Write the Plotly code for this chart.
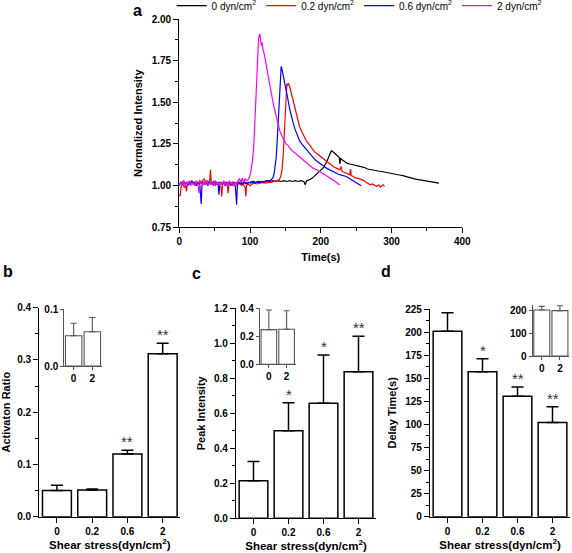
import plotly.graph_objects as go

W, H = 572, 553
FONT = "Liberation Sans, Arial, sans-serif"

# ---------------- Panel a: time courses (t [s], normalized intensity) ----------------
series_names = ["0 dyn/cm<sup>2</sup>", "0.2 dyn/cm<sup>2</sup>", "0.6 dyn/cm<sup>2</sup>", "2 dyn/cm<sup>2</sup>"]
series_colors = ["#000000", "#ff0000", "#0000ff", "#ff00ff"]

trace_0 = [(0,1.01),(4,1.02),(8,1.01),(12,1.015),(16,1.01),(20,1.02),(24,1.015),(28,1.01),(32,1.02),(36,1.01),
           (40,1.015),(44,1.02),(48,1.01),(52,1.015),(56,1.02),(60,1.01),(64,1.02),(68,1.015),(72,1.01),(76,1.02),
           (80,1.015),(84,1.02),(88,1.01),(92,1.02),(96,1.015),(100,1.02),(104,1.025),(108,1.02),(112,1.025),(116,1.02),
           (120,1.025),(124,1.03),(128,1.025),(132,1.03),(136,1.025),(140,1.03),(144,1.025),(148,1.03),(152,1.025),(156,1.03),
           (160,1.025),(164,1.03),(168,1.025),(172,1.03),(176,1.025),(178,1.005),(180,1.03),(184,1.035),(188,1.045),(192,1.06),
           (196,1.075),(200,1.09),(204,1.11),(208,1.14),(211,1.17),(213,1.20),(215,1.21),(218,1.20),(221,1.19),(224,1.18),
           (226,1.17),(227,1.13),(228,1.165),(230,1.155),(233,1.145),(237,1.135),(241,1.13),(246,1.125),(251,1.12),(256,1.115),
           (261,1.11),(266,1.10),(271,1.095),(276,1.09),(281,1.088),(286,1.085),(291,1.08),(296,1.077),(301,1.072),(306,1.068),
           (311,1.064),(316,1.06),(321,1.053),(326,1.046),(331,1.042),(336,1.038),(341,1.034),(346,1.03),(351,1.026),(356,1.023),
           (361,1.02),(364,1.018),(367,1.015)]

trace_02 = [(0,0.95),(1,0.935),(2,0.97),(3,1.0),(5,1.01),(7,0.99),(9,1.0),(10,0.965),(11,1.0),(13,1.02),
            (15,1.01),(17,1.03),(19,1.01),(21,1.02),(23,1.0),(25,1.02),(27,1.01),(29,1.03),(31,1.02),(33,1.03),
            (35,1.04),(37,1.02),(39,1.03),(41,1.02),(43,1.03),(44,1.095),(45,1.02),(47,1.01),(49,1.03),(51,1.0),
            (53,1.02),(55,1.01),(57,1.0),(59,0.99),(60,0.935),(61,1.0),(63,1.02),(65,1.0),(67,1.01),(68,1.0),
            (69,0.955),(70,1.0),(72,1.02),(74,1.01),(76,1.0),(78,1.02),(80,1.01),(82,1.0),(84,1.02),(86,1.01),
            (88,1.0),(90,1.01),(92,1.0),(93,0.99),(94,0.935),(95,1.0),(97,1.01),(100,1.0),(103,1.01),(106,1.015),
            (110,1.01),(114,1.015),(118,1.02),(122,1.015),(126,1.02),(130,1.02),(134,1.025),(138,1.03),(141,1.035),(143,1.05),
            (145,1.09),(147,1.19),(148,1.29),(149,1.39),(150,1.50),(151,1.57),(152,1.61),(153,1.605),(154,1.615),(156,1.595),
            (158,1.56),(161,1.495),(163,1.46),(166,1.41),(168,1.385),(170,1.355),(173,1.325),(175,1.305),(178,1.28),(180,1.265),
            (183,1.25),(186,1.23),(189,1.215),(192,1.20),(195,1.19),(198,1.175),(201,1.165),(204,1.16),(207,1.145),(210,1.14),
            (213,1.125),(216,1.12),(219,1.11),(222,1.105),(225,1.10),(227,1.095),(229,1.115),(230,1.085),(233,1.08),(236,1.075),
            (239,1.07),(241,1.065),(242,1.10),(243,1.06),(246,1.055),(249,1.045),(252,1.045),(255,1.04),(258,1.035),(261,1.03),
            (264,1.02),(267,1.01),(270,1.005),(273,1.01),(276,1.0),(279,0.995),(282,1.005),(284,0.99),(286,1.0),(288,1.005),
            (290,0.995)]

trace_06 = [(0,1.0),(2,1.02),(4,1.01),(6,1.03),(8,1.01),(10,1.02),(12,1.0),(14,1.02),(16,1.01),(18,1.03),
            (20,1.01),(22,1.02),(24,1.0),(26,1.02),(28,1.01),(29,1.0),(30,0.95),(31,0.89),(32,1.0),(34,1.02),
            (36,1.01),(38,1.02),(40,1.0),(42,1.02),(44,1.01),(46,1.02),(48,1.0),(50,1.02),(52,1.01),(54,1.02),
            (55,1.0),(56,0.945),(57,1.0),(59,1.02),(61,1.01),(63,1.02),(65,1.0),(67,1.02),(69,1.01),(71,1.02),
            (73,1.0),(75,1.02),(77,1.01),(79,1.0),(80,0.95),(81,0.885),(82,1.0),(84,1.02),(86,1.01),(88,1.02),
            (90,1.01),(92,1.02),(95,1.01),(98,1.02),(101,1.015),(104,1.02),(107,1.015),(110,1.02),(113,1.02),(116,1.025),
            (119,1.02),(122,1.025),(125,1.03),(128,1.03),(130,1.035),(132,1.045),(134,1.07),(136,1.12),(137,1.17),(138,1.24),
            (139,1.32),(140,1.40),(141,1.54),(142,1.63),(143,1.69),(144,1.715),(145,1.70),(146,1.68),(147,1.665),(149,1.62),
            (151,1.57),(153,1.53),(156,1.46),(158,1.42),(161,1.375),(163,1.345),(166,1.31),(168,1.29),(170,1.27),(173,1.25),
            (176,1.235),(180,1.215),(183,1.20),(186,1.18),(189,1.165),(192,1.155),(195,1.145),(199,1.135),(202,1.125),(205,1.115),
            (208,1.105),(212,1.095),(216,1.088),(220,1.08),(224,1.07),(228,1.065),(232,1.06),(236,1.055),(240,1.045),(244,1.035),
            (248,1.025),(252,1.015),(255,1.005),(257,1.0)]

trace_2 = [(0,1.0),(2,1.02),(4,1.01),(6,1.03),(8,1.0),(10,1.02),(12,1.01),(14,1.03),(16,1.0),(18,1.02),
           (20,1.01),(22,1.0),(24,1.03),(26,1.01),(27,0.99),(28,0.955),(29,1.01),(31,1.02),(33,1.0),(35,1.02),
           (37,1.01),(39,1.03),(41,1.0),(43,1.02),(45,1.01),(47,1.02),(49,1.0),(51,1.03),(53,1.01),(55,1.02),
           (57,1.0),(59,1.02),(61,1.01),(63,1.03),(65,1.0),(67,1.02),(69,1.01),(71,1.03),(73,1.01),(75,1.02),
           (77,1.0),(79,1.02),(81,1.01),(83,1.03),(85,1.04),(87,1.02),(89,1.045),(91,1.02),(93,1.04),(95,1.03),
           (97,1.035),(99,1.05),(101,1.08),(103,1.14),(105,1.22),(107,1.40),(109,1.64),(110,1.75),(111,1.83),(112,1.88),
           (113,1.90),(114,1.91),(115,1.87),(116,1.84),(117,1.86),(118,1.82),(120,1.79),(122,1.74),(124,1.69),(126,1.64),
           (128,1.59),(130,1.55),(132,1.51),(134,1.47),(136,1.43),(138,1.39),(140,1.36),(142,1.33),(145,1.30),(148,1.27),
           (151,1.25),(154,1.24),(157,1.22),(161,1.205),(165,1.19),(170,1.175),(175,1.155),(180,1.135),(185,1.12),(189,1.105),
           (194,1.095),(199,1.08),(204,1.07),(208,1.06),(212,1.05),(216,1.035),(219,1.03),(222,1.02),(225,1.01),(227,1.005)]

time_series = [trace_0, trace_02, trace_06, trace_2]

# ---------------- Panels b, c, d: bar charts ----------------
shear_categories = ["0", "0.2", "0.6", "2"]
inset_categories = ["0", "2"]

activation_ratio = [0.050, 0.051, 0.120, 0.312]
activation_err = [0.010, 0.002, 0.007, 0.020]
activation_sig = ["", "", "**", "**"]
activation_inset = [0.053, 0.060]
activation_inset_err = [0.022, 0.025]

peak_intensity = [0.215, 0.500, 0.657, 0.838]
peak_err = [0.109, 0.160, 0.276, 0.202]
peak_sig = ["", "*", "*", "**"]
peak_inset = [0.248, 0.250]
peak_inset_err = [0.140, 0.133]

delay_time = [201, 157, 130.5, 102]
delay_err = [20, 14, 10, 17]
delay_sig = ["", "*", "**", "**"]
delay_inset = [203, 200]
delay_inset_err = [16, 22]


def dx(x0, x1):
    return [x0 / W, x1 / W]


def dy(top, bottom):
    return [1 - bottom / H, 1 - top / H]


tickfont = dict(family=FONT, size=10, color="black", weight="bold")
titlefont = dict(family=FONT, size=11, color="black", weight="bold")


def ax(**kw):
    base = dict(showline=True, linecolor="black", linewidth=1.3, ticks="outside", ticklen=5,
                tickwidth=1.3, tickcolor="black", showgrid=False, zeroline=False, tickfont=tickfont,
                mirror=False, fixedrange=True, automargin=False)
    base.update(kw)
    return base


def inset_ax(**kw):
    base = dict(showline=True, linecolor="#555555", linewidth=1.1, ticks="outside", ticklen=3,
                tickwidth=1.1, tickcolor="#555555", showgrid=False, zeroline=False, tickfont=tickfont,
                mirror=False, fixedrange=True, automargin=False)
    base.update(kw)
    return base


fig = go.Figure()

for pts, name, color in zip(time_series, series_names, series_colors):
    fig.add_trace(go.Scatter(x=[p[0] for p in pts], y=[p[1] for p in pts], mode="lines", name=name,
                             line=dict(color=color, width=1.2), xaxis="x", yaxis="y"))


def add_bars(vals, errs, xa, ya, width, lw, lcolor, ecolor, ewidth, ethick, cats):
    fig.add_trace(go.Bar(x=cats, y=vals, width=width, showlegend=False, xaxis=xa, yaxis=ya,
                         marker=dict(color="white", line=dict(color=lcolor, width=lw)),
                         error_y=dict(type="data", symmetric=False, array=errs, arrayminus=[0] * len(errs),
                                      color=ecolor, thickness=ethick, width=ewidth)))


add_bars(activation_ratio, activation_err, "x2", "y2", 0.82, 1.5, "black", "black", 6, 1.5, shear_categories)
add_bars(activation_inset, activation_inset_err, "x3", "y3", 0.88, 1.1, "#555555", "#555555", 3, 1.1, inset_categories)
add_bars(peak_intensity, peak_err, "x4", "y4", 0.82, 1.5, "black", "black", 6, 1.5, shear_categories)
add_bars(peak_inset, peak_inset_err, "x5", "y5", 0.88, 1.1, "#555555", "#555555", 3, 1.1, inset_categories)
add_bars(delay_time, delay_err, "x6", "y6", 0.82, 1.5, "black", "black", 6, 1.5, shear_categories)
add_bars(delay_inset, delay_inset_err, "x7", "y7", 0.88, 1.1, "#555555", "#555555", 3, 1.1, inset_categories)

annotations = []
for vals, errs, sigs, xr, yr in [(activation_ratio, activation_err, activation_sig, "x2", "y2"),
                                 (peak_intensity, peak_err, peak_sig, "x4", "y4"),
                                 (delay_time, delay_err, delay_sig, "x6", "y6")]:
    for i, (v, e, s) in enumerate(zip(vals, errs, sigs)):
        if s:
            annotations.append(dict(x=i, y=v + e, xref=xr, yref=yr, text=s, showarrow=False,
                                    yanchor="bottom", yshift=-2,
                                    font=dict(family=FONT, size=15, color="#333333")))

for letter, px, py, anchor in [("a", 137, 0, "top"), ("b", 8, 271, "middle"),
                               ("c", 196, 273, "middle"), ("d", 386, 272, "middle")]:
    annotations.append(dict(x=px / W, y=1 - py / H, xref="paper", yref="paper", text=letter, showarrow=False,
                            xanchor="center", yanchor=anchor,
                            font=dict(family=FONT, size=16, color="black", weight="bold")))

shear_title = dict(text="Shear stress(dyn/cm<sup>2</sup>)", font=dict(family=FONT, size=11.5, color="black", weight="bold"), standoff=3)

fig.update_layout(
    width=W, height=H, margin=dict(l=0, r=0, t=0, b=0, autoexpand=False),
    paper_bgcolor="white", plot_bgcolor="white",
    font=dict(family=FONT, color="black"),
    barmode="overlay",
    showlegend=True,
    legend=dict(orientation="h", x=0.3, y=1.016, xanchor="left", yanchor="top",
                font=dict(family=FONT, size=10, color="black"), itemwidth=30,
                bgcolor="rgba(0,0,0,0)", tracegroupgap=0),
    xaxis=ax(domain=dx(179.3, 462.3), range=[0, 400], dtick=100, anchor="y",
             minor=dict(dtick=50, ticks="outside", ticklen=3, tickcolor="black", tickwidth=1.1),
             title=dict(text="Time(s)", font=titlefont, standoff=6)),
    yaxis=ax(domain=dy(19, 227.3), range=[0.75, 2.0], dtick=0.25, tickformat=".2f", anchor="x",
             minor=dict(dtick=0.125, ticks="outside", ticklen=3, tickcolor="black", tickwidth=1.1),
             title=dict(text="Normalized Intensity", font=titlefont, standoff=6)),
    xaxis2=ax(domain=dx(39.3, 180.3), type="category", range=[-0.5, 3.5], anchor="y2", title=shear_title),
    yaxis2=ax(domain=dy(307.7, 516.7), range=[0, 0.4], dtick=0.1, tickformat=".1f", anchor="x2",
              minor=dict(dtick=0.05, ticks="outside", ticklen=3, tickcolor="black", tickwidth=1.1),
              title=dict(text="Activaton Ratio", font=titlefont, standoff=6)),
    xaxis3=inset_ax(domain=dx(64.3, 101.7), type="category", range=[-0.5, 1.5], anchor="y3"),
    yaxis3=inset_ax(domain=dy(309, 366), range=[0, 0.1], dtick=0.1, tickformat=".1f", anchor="x3"),
    xaxis4=ax(domain=dx(236, 376), type="category", range=[-0.5, 3.5], anchor="y4", title=shear_title),
    yaxis4=ax(domain=dy(308.3, 518.3), range=[0, 1.2], dtick=0.2, tickformat=".1f", anchor="x4",
              minor=dict(dtick=0.1, ticks="outside", ticklen=3, tickcolor="black", tickwidth=1.1),
              title=dict(text="Peak Intensity", font=titlefont, standoff=6)),
    xaxis5=inset_ax(domain=dx(260, 295.5), type="category", range=[-0.5, 1.5], anchor="y5"),
    yaxis5=inset_ax(domain=dy(308.3, 364.3), range=[0, 0.4], dtick=0.2, tickformat=".1f", anchor="x5"),
    xaxis6=ax(domain=dx(430, 570), type="category", range=[-0.5, 3.5], anchor="y6", title=shear_title),
    yaxis6=ax(domain=dy(309, 516.7), range=[0, 225], dtick=25, anchor="x6",
              minor=dict(dtick=12.5, ticks="outside", ticklen=3, tickcolor="black", tickwidth=1.1),
              title=dict(text="Delay Time(s)", font=titlefont, standoff=6)),
    xaxis7=inset_ax(domain=dx(532.7, 569), type="category", range=[-0.5, 1.5], anchor="y7"),
    yaxis7=inset_ax(domain=dy(305, 356), range=[0, 225], dtick=100, anchor="x7"),
    annotations=annotations,
)

fig.write_html("out.html", config={"displayModeBar": False},
               post_script="document.body.style.margin='0px';")
